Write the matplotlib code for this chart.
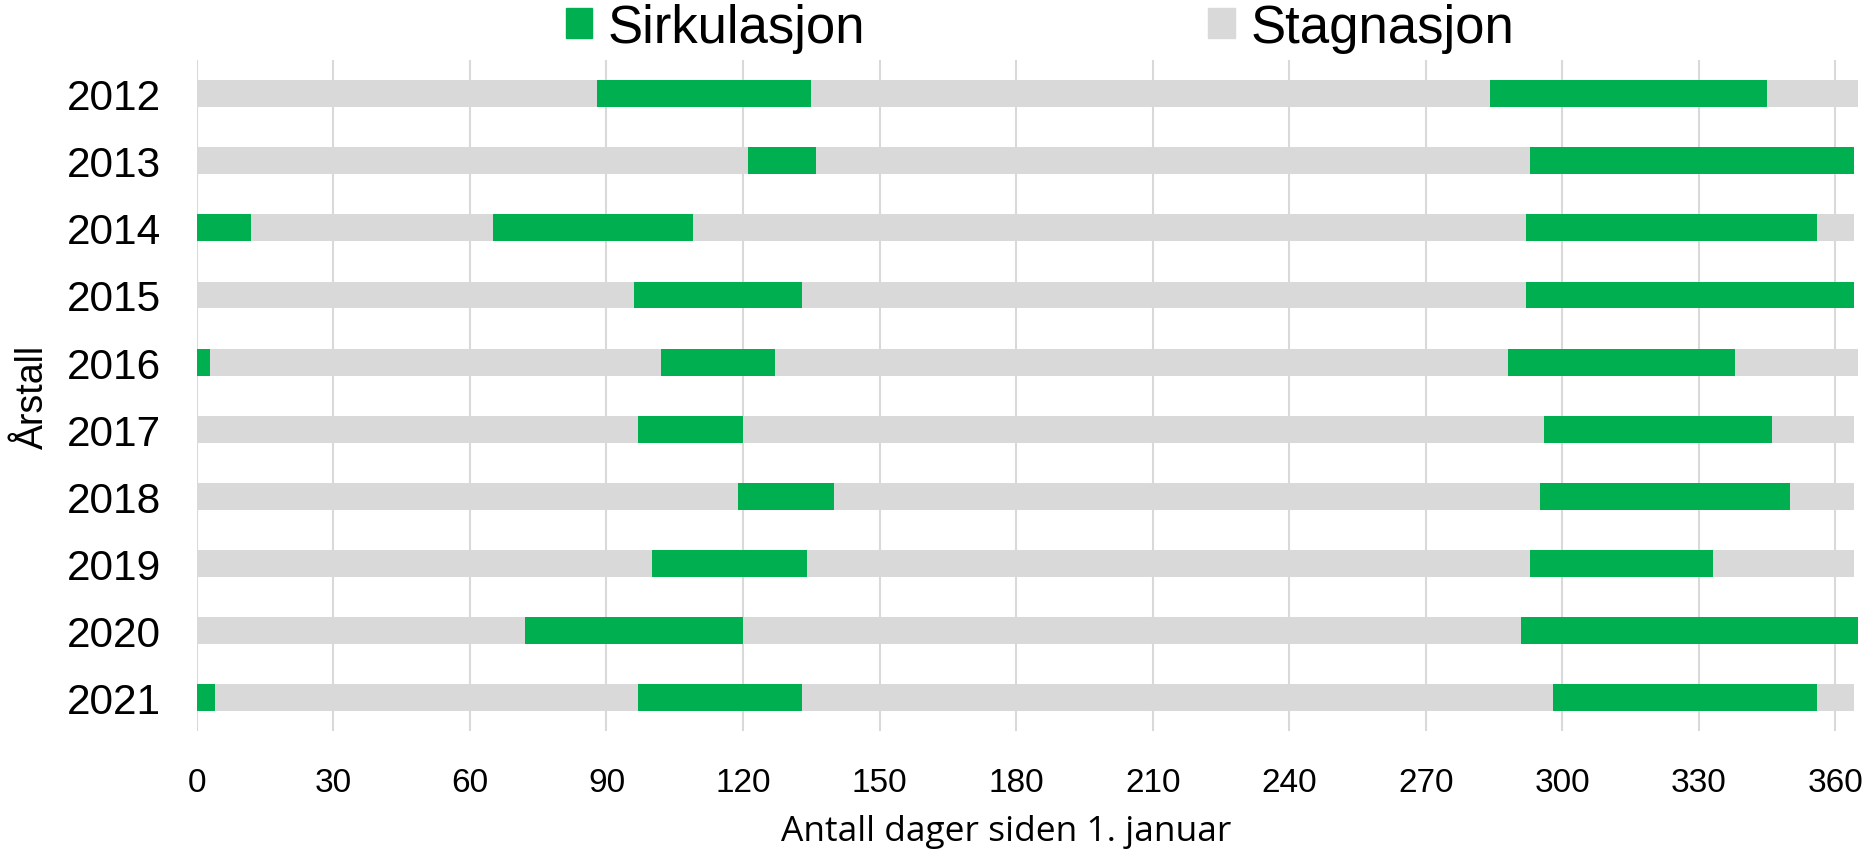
import numpy as np
import matplotlib
matplotlib.use("Agg")
import matplotlib.pyplot as plt
from matplotlib.patches import Patch

years = ["2012", "2013", "2014", "2015", "2016", "2017", "2018", "2019", "2020", "2021"]
year_end = [365, 364, 364, 364, 365, 364, 364, 364, 365, 364]  # 31. des, dager siden 1. jan

# sirkulasjonsperioder (start, slutt) i dager siden 1. januar
sirk_start = [[88, 284], [121, 293], [0, 65, 292], [96, 292], [0, 102, 288],
              [97, 296], [119, 295], [100, 293], [72, 291], [0, 97, 298]]
sirk_slutt = [[135, 345], [136, 364], [12, 109, 356], [133, 364], [3, 127, 338],
              [120, 346], [140, 350], [134, 333], [120, 365], [4, 133, 356]]

green = "#00B050"
grey = "#D9D9D9"

fig = plt.figure(figsize=(18.74, 8.54), dpi=100)
ax = fig.add_axes([0.105, 0.1425, 0.889, 0.786])

pos = np.arange(len(years))
ax.barh(pos, year_end, height=0.4, color=grey, zorder=2)  # stagnasjon som bakgrunn
for i in range(len(years)):
    s = np.array(sirk_start[i])
    e = np.array(sirk_slutt[i])
    ax.barh([i] * len(s), e - s, left=s, height=0.4, color=green, zorder=3)

ax.set_ylim(9.5, -0.5)
ax.set_xlim(0, 366)
ax.set_xticks(np.arange(0, 361, 30))
ax.set_yticks(pos)
ax.set_yticklabels(years, fontsize=30.5, family="Liberation Sans")
for lab in ax.get_xticklabels():
    lab.set_family("Liberation Sans")
ax.tick_params(axis="x", labelsize=24, length=0, pad=26)
ax.tick_params(axis="y", length=0, pad=26)
ax.grid(axis="x", color=grey, linewidth=1.5, zorder=0)
ax.set_axisbelow(True)
for sp in ax.spines.values():
    sp.set_visible(False)

ax.set_xlabel("Antall dager siden 1. januar", fontsize=25.5, family="Open Sans",
              labelpad=11, x=0.486)
ax.set_ylabel("Årstall", fontsize=27, family="Liberation Sans", labelpad=11)

handles = [Patch(color=green, label="Sirkulasjon"), Patch(color=grey, label="Stagnasjon")]
fig.legend(handles=handles, loc="center", bbox_to_anchor=(0.555, 0.966), ncol=2,
           frameon=False, prop={"family": "Liberation Sans", "size": 38},
           handlelength=0.5, handleheight=0.5, handletextpad=0.3, columnspacing=6.5)

fig.savefig("out.png", dpi=100)
